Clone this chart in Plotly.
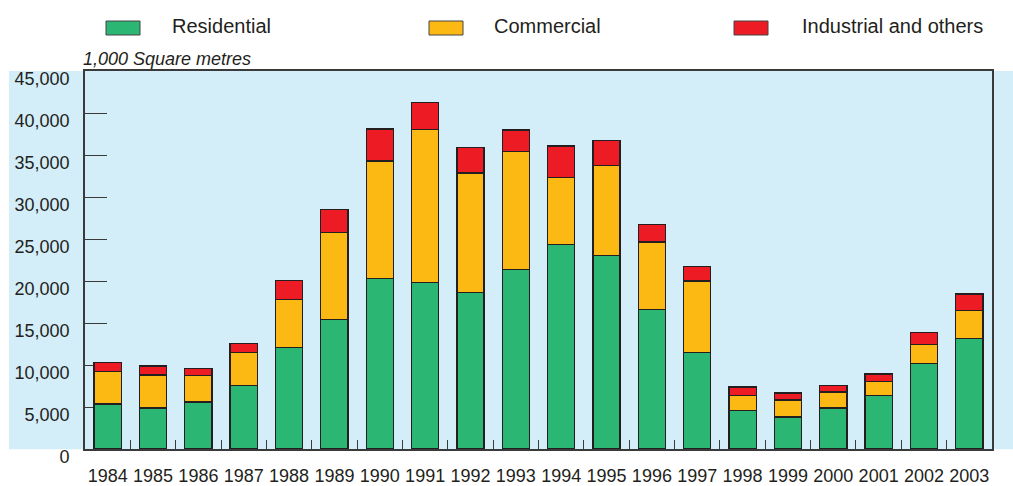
import plotly.graph_objects as go

# Floor area completed, in 1,000 square metres
years = ["1984", "1985", "1986", "1987", "1988", "1989", "1990", "1991", "1992", "1993",
         "1994", "1995", "1996", "1997", "1998", "1999", "2000", "2001", "2002", "2003"]
residential = [5350, 4870, 5580, 7550, 12100, 15430, 20290, 19820, 18670, 21400,
               24330, 23060, 16570, 11510, 4545, 3800, 4870, 6360, 10200, 13170]
commercial = [3900, 3950, 3200, 3920, 5700, 10360, 14000, 18230, 14200, 14040,
              8020, 10720, 8070, 8500, 1860, 2020, 1900, 1660, 2260, 3320]
industrial = [1070, 1070, 830, 1120, 2250, 2690, 3800, 3200, 3000, 2540,
              3730, 2930, 2070, 1710, 985, 830, 830, 910, 1380, 1970]

series_names = ["Residential", "Commercial", "Industrial and others"]
series_colors = ["#2bb673", "#fdb913", "#ed1c24"]
y_ticks = list(range(0, 45001, 5000))

W, H = 1013, 486
ML, MR, MT, MB = 85, 21, 71, 37
BG = "#d3edf9"
INK = "#231f20"
LINE = "#3a3a3a"

fig = go.Figure()
for name, vals, col in zip(series_names, [residential, commercial, industrial], series_colors):
    fig.add_trace(go.Bar(
        x=years, y=vals, name=name, width=0.6,
        marker=dict(color=col, line=dict(color=INK, width=1.3)),
        showlegend=False,
    ))

# pixel -> paper helpers for the decorations outside the plot area
def px(x):
    return (x - ML) / (W - ML - MR)

def py(y):
    return (H - MB - y) / (H - MT - MB)

shapes = [
    # light blue panel extending left of the axis and to the right edge
    dict(type="rect", xref="paper", yref="paper", x0=px(9), x1=px(W), y0=py(449.3), y1=py(71),
         fillcolor=BG, line=dict(width=0), layer="below"),
]
annotations = [
    dict(text="<i>1,000 Square metres</i>", xref="paper", yref="paper", x=px(81), y=py(59),
         xanchor="left", yanchor="middle", showarrow=False,
         font=dict(family="Liberation Sans, Arial", size=18, color=INK)),
]

# legend row
legend_boxes = [106, 429, 734]
legend_text_x = [170, 492, 800]
for name, col, bx, tx in zip(series_names, series_colors, legend_boxes, legend_text_x):
    shapes.append(dict(type="rect", xref="paper", yref="paper", x0=px(bx), x1=px(bx + 34),
                       y0=py(35), y1=py(21), fillcolor=col, line=dict(color="#444", width=1)))
    annotations.append(dict(text=name, xref="paper", yref="paper", x=px(tx), y=py(26),
                            xanchor="left", yanchor="middle", showarrow=False,
                            font=dict(family="Liberation Sans, Arial", size=20, color=INK)))

fig.update_layout(
    barmode="stack",
    width=W, height=H,
    margin=dict(l=ML, r=MR, t=MT, b=MB, pad=0),
    paper_bgcolor="white",
    plot_bgcolor=BG,
    font=dict(family="Liberation Sans, Arial", size=18, color=INK),
    shapes=shapes,
    annotations=annotations,
    bargap=0.4,
)

fig.update_xaxes(
    type="category", range=[-0.5, 19.5], automargin=False, tickangle=0,
    showline=True, linecolor=LINE, linewidth=1.6, mirror=True,
    ticks="inside", tickson="boundaries", ticklen=9, tickwidth=1.3, tickcolor=LINE,
    ticklabelstandoff=10,
    showgrid=False, zeroline=False, layer="below traces",
    tickfont=dict(size=18, color=INK),
)
fig.update_yaxes(
    range=[0, 45000], tickvals=y_ticks, tickformat=",", automargin=False,
    showline=True, linecolor=LINE, linewidth=1.6, mirror=True,
    ticks="inside", ticklen=22, tickwidth=1.3, tickcolor=LINE,
    ticklabelshift=8, ticklabelstandoff=10,
    showgrid=False, zeroline=False, layer="below traces",
    tickfont=dict(size=18, color=INK),
)

fig.write_html("out.html")
